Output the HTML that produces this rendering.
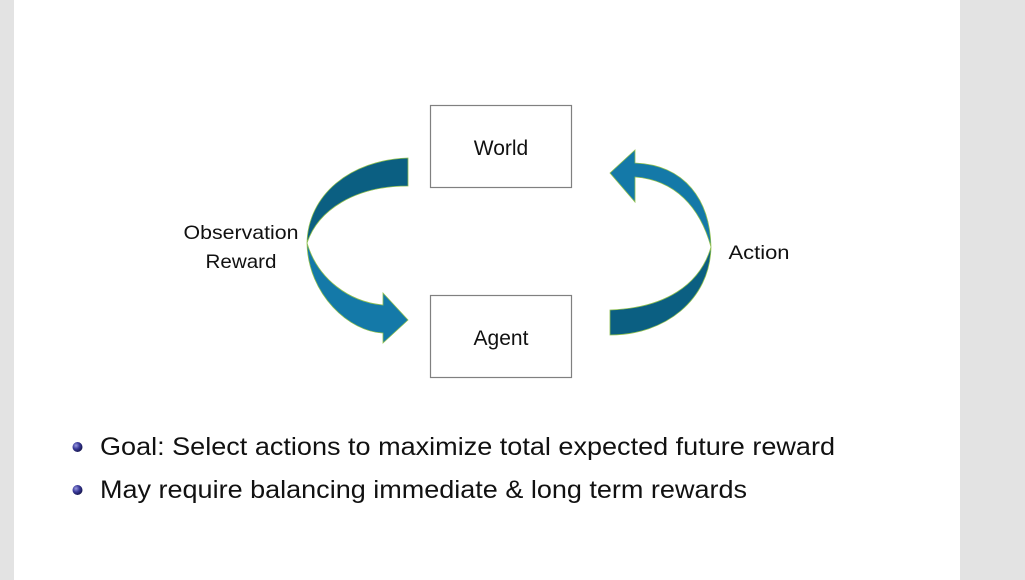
<!DOCTYPE html>
<html><head><meta charset="utf-8"><style>
html,body{margin:0;padding:0;width:1025px;height:580px;overflow:hidden;background:#e3e3e3}
svg{display:block}
</style></head><body>
<svg width="1025" height="580" viewBox="0 0 1025 580" font-family="'Liberation Sans', sans-serif">
  <defs>
    <radialGradient id="ball" cx="0.35" cy="0.35" r="0.7">
      <stop offset="0" stop-color="#9a9ae0"/>
      <stop offset="0.5" stop-color="#3a3a9a"/>
      <stop offset="1" stop-color="#14144a"/>
    </radialGradient>
  </defs>
  <rect x="0" y="0" width="1025" height="580" fill="#e3e3e3"/>
  <rect x="14" y="0" width="946" height="580" fill="#ffffff"/>

  <g>
    <rect x="430.5" y="105.5" width="141" height="82" fill="#fff" stroke="#808080" stroke-width="1.2"/>
    <text x="501" y="155" font-size="21" text-anchor="middle" fill="#111">World</text>
  </g>
  <g>
    <rect x="430.5" y="295.5" width="141" height="82" fill="#fff" stroke="#808080" stroke-width="1.2"/>
    <text x="501" y="345" font-size="21" text-anchor="middle" fill="#111">Agent</text>
  </g>

  <g stroke="#8fbf50" stroke-width="0.8">
    <path d="M408,158 C350,160 308,195 307,243 C318,210 355,186 408,186 Z" fill="#0b5f82"/>
    <path d="M307,243 C308,295 350,332 383,333 L383,343 L408,320 L383,293 L383,305 C350,302 318,280 307,243 Z" fill="#1479a8"/>
  </g>
  <g stroke="#8fbf50" stroke-width="0.8">
    <path d="M610,310 C665,308 700,285 711,247 C710,300 665,335 610,335 Z" fill="#0b5f82"/>
    <path d="M711,247 C700,207 675,180 635,177 L635,202 L610,173 L635,150 L635,163 C685,165 710,200 711,247 Z" fill="#1479a8"/>
  </g>

  <text x="241" y="239" font-size="19.5" text-anchor="middle" fill="#111" textLength="115" lengthAdjust="spacingAndGlyphs">Observation</text>
  <text x="241" y="268" font-size="19.5" text-anchor="middle" fill="#111" textLength="71" lengthAdjust="spacingAndGlyphs">Reward</text>
  <text x="759" y="259" font-size="19.5" text-anchor="middle" fill="#111" textLength="61" lengthAdjust="spacingAndGlyphs">Action</text>

  <g>
    <circle cx="77.5" cy="447" r="5" fill="url(#ball)"/>
    <text x="100" y="455" font-size="25" fill="#111" textLength="735" lengthAdjust="spacingAndGlyphs">Goal:  Select actions to maximize total expected future reward</text>
  </g>
  <g>
    <circle cx="77.5" cy="490" r="5" fill="url(#ball)"/>
    <text x="100" y="498" font-size="25" fill="#111" textLength="647" lengthAdjust="spacingAndGlyphs">May require balancing immediate &amp; long term rewards</text>
  </g>
</svg>
</body></html>
